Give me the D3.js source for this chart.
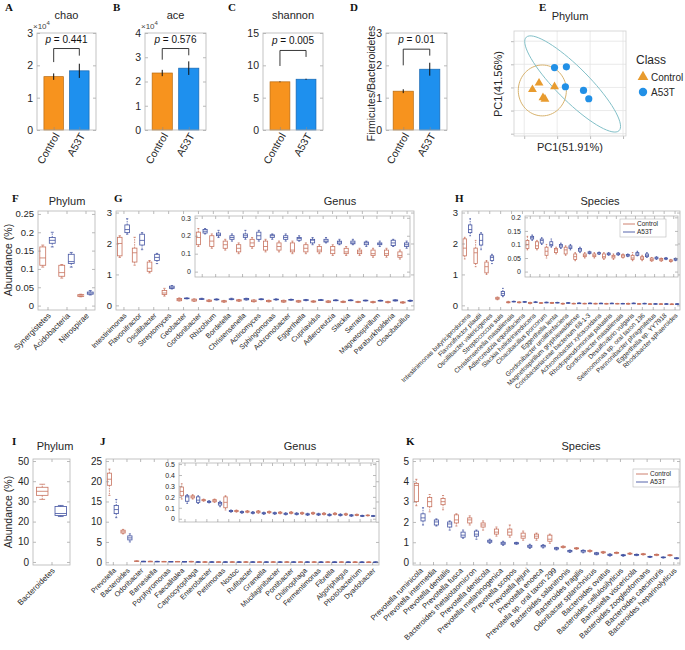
<!DOCTYPE html>
<html>
<head>
<meta charset="utf-8">
<script src="https://cdn.jsdelivr.net/npm/d3@7"></script>
<style>
body { margin: 0; background: #fff; }
svg { font-family: "Liberation Sans", Arial, sans-serif; }
</style>
</head>
<body>
<svg id="svg" width="685" height="650"></svg>
<script>
// ---------------------------------------------------------------------------
// data

var alphaGroups = ["Control", "A53T"];
var chaoMean = [1.65, 1.83], chaoErr = [0.1, 0.22];        // x10^4
var aceMean = [2.35, 2.55], aceErr = [0.13, 0.28];         // x10^4
var shannonMean = [7.45, 7.85], shannonErr = [0.06, 0.08];
var fbMean = [1.2, 1.88], fbErr = [0.06, 0.2];
var pValues = ["0.441", "0.576", "0.005", "0.01"];

// PCoA points
var pcCtrlX = [-0.155, -0.175, -0.108, -0.143, -0.137];
var pcCtrlY = [0.019, -0.009, 0.003, -0.044, -0.051];
var pcA53tX = [-0.108, -0.072, -0.075, -0.020, -0.004];
var pcA53tY = [0.086, 0.089, 0.003, -0.013, -0.049];

// box summaries: [lower whisker, q1, median, q3, upper whisker]
var fNames = ["Synergistetes", "Acidobacteria", "Nitrospirae"];
var fCtrl = [[0.105, 0.11, 0.13, 0.16, 0.165], [0.075, 0.08, 0.09, 0.11, 0.112], [0.024, 0.025, 0.027, 0.03, 0.031]];
var fA53t = [[0.16, 0.17, 0.178, 0.186, 0.2], [0.105, 0.115, 0.12, 0.14, 0.145], [0.029, 0.031, 0.034, 0.037, 0.041]];

var gNames = ["Intestinimonas", "Flavonifractor", "Oscillibacter", "Streptomyces", "Geobacter", "Gordonibacter",
    "Rhizobium", "Bordetella", "Christensenella", "Actinomyces", "Sphingomonas", "Achromobacter", "Eggerthella",
    "Cupriavidus", "Adlercreutzia", "Slackia", "Serratia", "Magnetospirillum", "Paraburkholderia", "Cloacibacillus"];
var gCtrl = [[1.55, 1.6, 2.0, 2.2, 2.25], [1.3, 1.4, 1.7, 1.85, 2.2], [1.05, 1.1, 1.2, 1.4, 1.45], [0.3, 0.35, 0.4, 0.48, 0.55],
    [0.14, 0.15, 0.19, 0.22, 0.24], [0.13, 0.14, 0.17, 0.2, 0.21], [0.12, 0.13, 0.15, 0.17, 0.18], [0.1, 0.11, 0.13, 0.15, 0.16],
    [0.13, 0.14, 0.16, 0.18, 0.19], [0.11, 0.12, 0.14, 0.17, 0.18], [0.11, 0.12, 0.14, 0.16, 0.17], [0.1, 0.11, 0.12, 0.16, 0.17],
    [0.1, 0.11, 0.13, 0.15, 0.16], [0.1, 0.11, 0.12, 0.14, 0.15], [0.09, 0.1, 0.12, 0.14, 0.15], [0.09, 0.1, 0.11, 0.13, 0.14],
    [0.09, 0.1, 0.11, 0.12, 0.13], [0.08, 0.09, 0.1, 0.12, 0.13], [0.08, 0.09, 0.1, 0.12, 0.13], [0.07, 0.08, 0.09, 0.11, 0.12]];
var gA53t = [[2.3, 2.35, 2.45, 2.6, 2.8], [1.8, 1.95, 2.1, 2.3, 2.35], [1.35, 1.45, 1.55, 1.65, 1.68], [0.53, 0.55, 0.57, 0.62, 0.64],
    [0.21, 0.215, 0.225, 0.235, 0.24], [0.19, 0.2, 0.205, 0.215, 0.23], [0.17, 0.18, 0.19, 0.2, 0.21], [0.18, 0.19, 0.2, 0.21, 0.23],
    [0.17, 0.18, 0.2, 0.22, 0.23], [0.18, 0.19, 0.2, 0.205, 0.21], [0.17, 0.18, 0.19, 0.2, 0.21], [0.17, 0.175, 0.185, 0.19, 0.2],
    [0.15, 0.16, 0.175, 0.18, 0.19], [0.16, 0.165, 0.17, 0.18, 0.19], [0.15, 0.155, 0.165, 0.17, 0.18], [0.15, 0.155, 0.16, 0.17, 0.18],
    [0.14, 0.15, 0.16, 0.165, 0.17], [0.14, 0.15, 0.155, 0.16, 0.17], [0.14, 0.145, 0.16, 0.175, 0.18], [0.13, 0.14, 0.15, 0.16, 0.17]];

var hNames = ["Intestinimonas butyriciproducens", "Flavonifractor plautii", "Oscillibacter valericigenes", "Streptococcus suis",
    "Christensenella massiliensis", "Adlercreutzia equolifaciens", "Slackia heliotrinireducens", "Cloacibacillus porcorum",
    "Eggerthella lenta", "Gordonibacter urolithinfaciens", "Magnetospirillum gryphiswaldense", "Coriobacteriaceae bacterium 68-1-3",
    "Achromobacter xylosoxidans", "Rhodopseudomonas palustris", "Gordonibacter massiliensis", "Desulfovibrio vulgaris",
    "Selenomonas sp. oral taxon 136", "Pannonibacter phragmitetus", "Eggerthella sp. YY7918", "Rhodobacter sphaeroides"];
var hCtrl = [[1.5, 1.6, 1.85, 2.15, 2.2], [1.25, 1.35, 1.7, 1.85, 2.1], [1.0, 1.05, 1.25, 1.4, 1.45], [0.18, 0.2, 0.22, 0.26, 0.27],
    [0.08, 0.085, 0.1, 0.115, 0.13], [0.08, 0.085, 0.095, 0.11, 0.115], [0.05, 0.06, 0.075, 0.09, 0.1], [0.065, 0.07, 0.08, 0.085, 0.09],
    [0.06, 0.065, 0.08, 0.09, 0.095], [0.04, 0.045, 0.055, 0.065, 0.07], [0.05, 0.055, 0.06, 0.065, 0.07], [0.05, 0.055, 0.06, 0.065, 0.07],
    [0.045, 0.05, 0.055, 0.065, 0.07], [0.045, 0.05, 0.055, 0.06, 0.065], [0.05, 0.053, 0.058, 0.062, 0.065], [0.04, 0.045, 0.05, 0.06, 0.07],
    [0.04, 0.045, 0.05, 0.055, 0.06], [0.038, 0.04, 0.045, 0.05, 0.052], [0.038, 0.04, 0.045, 0.048, 0.05], [0.035, 0.037, 0.04, 0.043, 0.045]];
var hA53t = [[2.25, 2.35, 2.45, 2.6, 2.8], [1.8, 1.95, 2.1, 2.3, 2.35], [1.35, 1.45, 1.55, 1.6, 1.65], [0.28, 0.32, 0.38, 0.45, 0.55],
    [0.115, 0.12, 0.125, 0.13, 0.135], [0.1, 0.105, 0.115, 0.12, 0.125], [0.09, 0.095, 0.1, 0.11, 0.12], [0.085, 0.09, 0.095, 0.1, 0.105],
    [0.08, 0.085, 0.09, 0.095, 0.1], [0.07, 0.075, 0.08, 0.085, 0.09], [0.065, 0.067, 0.07, 0.073, 0.075], [0.063, 0.065, 0.068, 0.07, 0.072],
    [0.06, 0.062, 0.065, 0.068, 0.07], [0.06, 0.062, 0.065, 0.068, 0.07], [0.055, 0.057, 0.06, 0.063, 0.065], [0.058, 0.06, 0.065, 0.07, 0.075],
    [0.052, 0.055, 0.06, 0.065, 0.07], [0.045, 0.047, 0.05, 0.053, 0.055], [0.044, 0.046, 0.048, 0.05, 0.052], [0.04, 0.042, 0.045, 0.048, 0.05]];

var iNames = ["Bacteroidetes"];
var iCtrl = [[31, 33, 35, 37, 38.5]];
var iA53t = [[22.5, 23, 24, 27.5, 28]];

var jNames = ["Prevotella", "Bacteroides", "Odoribacter", "Barnesiella", "Porphyromonas", "Faecalitalea", "Capnocytophaga",
    "Enterobacter", "Petrimonas", "Nostoc", "Rufibacter", "Gramella", "Mucilaginibacter", "Pontibacter", "Chitinophaga",
    "Fermentimonas", "Fibrella", "Algoriphagus", "Photobacterium", "Dyadobacter"];
var jCtrl = [[16.5, 19, 20.5, 22, 23], [7, 7.2, 7.5, 7.9, 8.1], [0.18, 0.21, 0.25, 0.29, 0.32], [0.18, 0.19, 0.2, 0.21, 0.22],
    [0.16, 0.165, 0.17, 0.175, 0.18], [0.15, 0.155, 0.165, 0.175, 0.18], [0.08, 0.1, 0.15, 0.2, 0.21], [0.06, 0.065, 0.07, 0.075, 0.08],
    [0.055, 0.06, 0.065, 0.07, 0.075], [0.05, 0.055, 0.065, 0.07, 0.075], [0.05, 0.055, 0.06, 0.065, 0.07], [0.045, 0.05, 0.055, 0.06, 0.065],
    [0.045, 0.05, 0.055, 0.06, 0.065], [0.04, 0.045, 0.05, 0.055, 0.06], [0.04, 0.045, 0.05, 0.055, 0.06], [0.035, 0.04, 0.045, 0.05, 0.055],
    [0.035, 0.04, 0.045, 0.05, 0.055], [0.03, 0.035, 0.04, 0.045, 0.05], [0.028, 0.03, 0.035, 0.04, 0.042], [0.025, 0.028, 0.03, 0.033, 0.035]];
var jA53t = [[11, 12, 13, 14, 15.5], [5, 5.5, 6, 6.5, 7], [0.14, 0.16, 0.2, 0.21, 0.22], [0.14, 0.15, 0.17, 0.2, 0.21],
    [0.145, 0.15, 0.155, 0.16, 0.165], [0.11, 0.125, 0.14, 0.15, 0.16], [0.06, 0.065, 0.07, 0.075, 0.08], [0.05, 0.055, 0.06, 0.065, 0.07],
    [0.045, 0.05, 0.055, 0.06, 0.065], [0.04, 0.045, 0.05, 0.055, 0.06], [0.04, 0.045, 0.05, 0.055, 0.06], [0.035, 0.04, 0.045, 0.05, 0.055],
    [0.035, 0.04, 0.045, 0.05, 0.055], [0.03, 0.035, 0.04, 0.045, 0.05], [0.03, 0.035, 0.04, 0.045, 0.05], [0.025, 0.03, 0.035, 0.04, 0.045],
    [0.025, 0.03, 0.035, 0.04, 0.045], [0.022, 0.025, 0.03, 0.035, 0.038], [0.02, 0.022, 0.025, 0.03, 0.032], [0.02, 0.022, 0.025, 0.028, 0.03]];

var kNames = ["Prevotella ruminicola", "Prevotella intermedia", "Prevotella dentalis", "Prevotella fusca",
    "Bacteroides thetaiotaomicron", "Prevotella denticola", "Prevotella melaninogenica", "Prevotella scopos",
    "Prevotella jejuni", "Prevotella enoeca", "Prevotella sp. oral taxon 299", "Bacteroides salanitronis",
    "Bacteroides fragilis", "Odoribacter splanchnicus", "Bacteroides ovatus", "Bacteroides cellulosilyticus",
    "Barnesiella viscericola", "Bacteroides zoogleoformans", "Bacteroides caecimuris", "Bacteroides heparinolyticus"];
var kCtrl = [[2.8, 3.0, 3.8, 3.9, 4.1], [2.5, 2.75, 3.0, 3.2, 3.35], [2.6, 2.85, 3.0, 3.15, 3.3], [1.8, 1.95, 2.1, 2.35, 2.4],
    [1.85, 1.95, 2.1, 2.2, 2.3], [1.6, 1.75, 1.85, 1.95, 2.05], [1.3, 1.4, 1.5, 1.65, 1.75], [1.25, 1.35, 1.5, 1.65, 1.85],
    [1.1, 1.2, 1.3, 1.45, 1.55], [1.1, 1.2, 1.3, 1.4, 1.45], [0.95, 1.05, 1.15, 1.35, 1.4], [0.72, 0.74, 0.77, 0.8, 0.82],
    [0.65, 0.68, 0.7, 0.72, 0.74], [0.52, 0.55, 0.57, 0.6, 0.62], [0.45, 0.48, 0.5, 0.53, 0.55], [0.44, 0.46, 0.48, 0.5, 0.52],
    [0.4, 0.42, 0.44, 0.46, 0.48], [0.37, 0.39, 0.41, 0.43, 0.45], [0.34, 0.36, 0.38, 0.4, 0.42], [0.33, 0.34, 0.36, 0.38, 0.39]];
var kA53t = [[1.85, 2.05, 2.2, 2.4, 2.7], [1.8, 1.85, 2.0, 2.1, 2.15], [1.6, 1.75, 1.9, 2.0, 2.05], [1.2, 1.25, 1.35, 1.5, 1.6],
    [1.15, 1.3, 1.4, 1.55, 1.6], [0.95, 1.0, 1.05, 1.1, 1.15], [0.85, 0.9, 0.95, 1.0, 1.05], [0.9, 0.92, 0.95, 0.98, 1.0],
    [0.7, 0.75, 0.8, 0.85, 0.9], [0.72, 0.77, 0.82, 0.85, 0.88], [0.62, 0.66, 0.7, 0.73, 0.75], [0.5, 0.53, 0.57, 0.6, 0.62],
    [0.48, 0.52, 0.57, 0.6, 0.62], [0.38, 0.41, 0.44, 0.48, 0.5], [0.32, 0.35, 0.38, 0.41, 0.43], [0.31, 0.34, 0.36, 0.38, 0.4],
    [0.34, 0.36, 0.38, 0.4, 0.42], [0.25, 0.27, 0.28, 0.3, 0.31], [0.22, 0.24, 0.25, 0.27, 0.28], [0.18, 0.2, 0.21, 0.23, 0.24]];

//////////////////////////////////////////////////////////////////////////////

var svg = d3.select("#svg");
var ctrlCol = "#c8735f", a53tCol = "#4454a2";
var frameCol = "#b4b4b4", tickCol = "#8c8c8c", textCol = "#262626";
var sans = "Liberation Sans, Arial, sans-serif";
var plain = function(d) { return d; };

function letter(x, y, s) {
    svg.append("text").attr("x", x).attr("y", y)
        .attr("font-family", "Liberation Serif, Times New Roman, serif")
        .attr("font-weight", "bold").attr("font-size", 11).attr("fill", "#111").text(s);
}

function label(x, y, s, size, anchor) {
    return svg.append("text").attr("x", x).attr("y", y)
        .attr("font-size", size).attr("fill", textCol)
        .attr("text-anchor", anchor || "middle").text(s);
}

function vlabel(x, y, s, size) {
    svg.append("text").attr("transform", "translate(" + x + "," + y + ") rotate(-90)")
        .attr("text-anchor", "middle").attr("font-size", size).attr("fill", textCol).text(s);
}

function frame(g, x0, y0, x1, y1) {
    g.append("rect").attr("x", x0).attr("y", y0).attr("width", x1 - x0).attr("height", y1 - y0)
        .attr("fill", "none").attr("stroke", frameCol).attr("stroke-width", 0.8);
}

function styleAxis(sel, fs) {
    sel.attr("font-family", sans).attr("font-size", fs);
    sel.select(".domain").remove();
    sel.selectAll(".tick line").attr("stroke", tickCol).attr("stroke-width", 0.6);
    sel.selectAll(".tick text").attr("fill", textCol);
}

// matlab-style box: ticks on all four sides, pointing in
function axesBox(g, x, y, yTicks, fs, xTicks) {
    var x0 = x.range()[0], x1 = x.range()[1], y0 = y.range()[1], y1 = y.range()[0];
    g.append("g").attr("transform", "translate(" + x0 + ",0)")
        .call(d3.axisLeft(y).tickValues(yTicks).tickSize(-3).tickPadding(4).tickFormat(plain))
        .call(styleAxis, fs);
    g.append("g").attr("transform", "translate(" + x1 + ",0)")
        .call(d3.axisRight(y).tickValues(yTicks).tickSize(-3).tickFormat(""))
        .call(styleAxis, fs);
    if (xTicks) {
        g.append("g").attr("transform", "translate(0," + y0 + ")")
            .call(d3.axisTop(x).tickValues(xTicks).tickSize(-3).tickFormat(""))
            .call(styleAxis, fs);
    }
    frame(g, x0, y0, x1, y1);
}

function rotatedLabels(g, x, y1, ticks, names, fs, angle) {
    var ax = g.append("g").attr("transform", "translate(0," + y1 + ")")
        .call(d3.axisBottom(x).tickValues(ticks).tickSize(-3).tickFormat(function(d, i) { return names[i]; }))
        .call(styleAxis, fs);
    ax.selectAll(".tick text")
        .attr("x", -2).attr("y", 4).attr("dy", "0.35em")
        .attr("transform", "rotate(" + angle + ")")
        .style("text-anchor", "end");
}

//////////////////////////////////////////////////////////////////////////////
// A - D : bar charts

var row1Top = 33, row1Bottom = 130;

function barPanel(o) {
    var g = svg.append("g");
    var x = d3.scaleLinear().domain([0.35, 2.65]).range([o.x0, o.x1]);
    var y = d3.scaleLinear().domain([0, o.ymax]).range([row1Bottom, row1Top]);
    var half = x(1.38) - x(1);
    var fills = ["#f7931e", "#1e90ee"], strokes = ["#b86a10", "#1565b0"];

    g.selectAll("rect.bar").data(o.mean).enter().append("rect")
        .attr("x", function(d, i) { return x(i + 1) - half; })
        .attr("y", function(d) { return y(d); })
        .attr("width", 2 * half)
        .attr("height", function(d) { return row1Bottom - y(d); })
        .attr("fill", function(d, i) { return fills[i]; })
        .attr("stroke", function(d, i) { return strokes[i]; })
        .attr("stroke-width", 0.7);

    g.selectAll("line.err").data(o.mean).enter().append("line")
        .attr("x1", function(d, i) { return x(i + 1); })
        .attr("x2", function(d, i) { return x(i + 1); })
        .attr("y1", function(d, i) { return y(d - o.err[i]); })
        .attr("y2", function(d, i) { return y(d + o.err[i]); })
        .attr("stroke", "#111").attr("stroke-width", 1);

    axesBox(g, x, y, o.ticks, 10.5, null);
    rotatedLabels(g, x, row1Bottom, [1, 2], alphaGroups, 10.5, -60);

    // significance bracket
    var b = o.bracket;
    g.append("path")
        .attr("d", "M" + x(1) + "," + y(b[1]) + "V" + y(b[0]) + "H" + x(2) + "V" + y(b[2]))
        .attr("fill", "none").attr("stroke", "#222").attr("stroke-width", 0.9);
    var t = g.append("text").attr("x", (x(1) + x(2)) / 2).attr("y", y(b[0]) - 6)
        .attr("text-anchor", "middle").attr("font-size", 10).attr("fill", "#111");
    t.append("tspan").attr("font-style", "italic").text("p");
    t.append("tspan").text(" = " + o.p);

    if (o.title) label((o.x0 + o.x1) / 2, 19, o.title, 11);
    if (o.exp) {
        var e = g.append("text").attr("x", o.x0 - 4).attr("y", 29).attr("font-size", 8).attr("fill", "#444");
        e.append("tspan").text("\u00d710");
        e.append("tspan").attr("dy", -4).attr("font-size", 6).text("4");
    }
}

barPanel({x0: 37, x1: 96, ymax: 3, ticks: [0, 1, 2, 3], mean: chaoMean, err: chaoErr,
    bracket: [2.52, 2.1, 2.3], p: pValues[0], title: "chao", exp: true});
barPanel({x0: 145, x1: 206, ymax: 4, ticks: [0, 1, 2, 3, 4], mean: aceMean, err: aceErr,
    bracket: [3.36, 2.9, 3.08], p: pValues[1], title: "ace", exp: true});
barPanel({x0: 263, x1: 323, ymax: 15, ticks: [0, 5, 10, 15], mean: shannonMean, err: shannonErr,
    bracket: [12.3, 9.9, 11.3], p: pValues[2], title: "shannon"});
barPanel({x0: 386, x1: 447, ymax: 3, ticks: [0, 1, 2, 3], mean: fbMean, err: fbErr,
    bracket: [2.5, 2.0, 2.3], p: pValues[3]});
vlabel(375, (row1Top + row1Bottom) / 2 + 2, "Firmicutes/Bacteroidetes", 10.5);

letter(5, 11, "A");
letter(113, 11, "B");
letter(228, 11, "C");
letter(350, 11, "D");
letter(539, 11, "E");

//////////////////////////////////////////////////////////////////////////////
// E : PCoA

(function() {
    var g = svg.append("g");
    var x = d3.scaleLinear().domain([-0.231, 0.109]).range([514, 626]);
    var y = d3.scaleLinear().domain([-0.21, 0.244]).range([136, 31]);
    var xt = [-0.2, -0.1, 0, 0.1], yt = [-0.2, -0.1, 0, 0.1, 0.2];

    g.selectAll("line.vg").data(xt).enter().append("line")
        .attr("x1", x).attr("x2", x).attr("y1", 31).attr("y2", 136)
        .attr("stroke", "#e4e4e4").attr("stroke-width", 0.8);
    g.selectAll("line.hg").data(yt).enter().append("line")
        .attr("y1", y).attr("y2", y).attr("x1", 514).attr("x2", 626)
        .attr("stroke", "#e4e4e4").attr("stroke-width", 0.8);
    g.append("g").attr("transform", "translate(514,0)")
        .call(d3.axisLeft(y).tickValues(yt).tickSize(3).tickFormat("")).call(styleAxis, 9);
    g.append("g").attr("transform", "translate(0,136)")
        .call(d3.axisBottom(x).tickValues(xt).tickSize(3).tickFormat("")).call(styleAxis, 9);
    g.append("rect").attr("x", 514).attr("y", 31).attr("width", 112).attr("height", 105)
        .attr("fill", "none").attr("stroke", "#cfcfcf").attr("stroke-width", 0.8);

    // confidence ellipses: centre, two half-axis vectors in data units
    var ellipses = [
        {c: [-0.145, -0.013], m: [0.073, 0], n: [0, 0.11], col: "#d8b36e"},
        {c: [-0.053, 0.015], m: [0.1405, -0.2025], n: [0.0377, 0.0475], col: "#82c0c8"}
    ];
    var line = d3.line().curve(d3.curveCardinalClosed);
    ellipses.forEach(function(e) {
        var pts = d3.range(0, 2 * Math.PI, Math.PI / 36).map(function(t) {
            return [x(e.c[0] + Math.cos(t) * e.m[0] + Math.sin(t) * e.n[0]),
                    y(e.c[1] + Math.cos(t) * e.m[1] + Math.sin(t) * e.n[1])];
        });
        g.append("path").attr("d", line(pts)).attr("fill", "none")
            .attr("stroke", e.col).attr("stroke-width", 1);
    });

    var tri = d3.symbol().type(d3.symbolTriangle).size(34);
    g.selectAll("path.ctrl").data(pcCtrlX).enter().append("path")
        .attr("d", tri)
        .attr("transform", function(d, i) { return "translate(" + x(d) + "," + y(pcCtrlY[i]) + ")"; })
        .attr("fill", "#e89b2e");
    g.selectAll("circle.a53t").data(pcA53tX).enter().append("circle")
        .attr("cx", function(d) { return x(d); })
        .attr("cy", function(d, i) { return y(pcA53tY[i]); })
        .attr("r", 3.6).attr("fill", "#2290e6");

    label(570, 20, "Phylum", 11);
    vlabel(502, 84, "PC1(41.56%)", 11);
    label(570, 151, "PC1(51.91%)", 11);

    label(636, 64, "Class", 12, "start");
    svg.append("path").attr("d", d3.symbol().type(d3.symbolTriangle).size(50)())
        .attr("transform", "translate(643,77)").attr("fill", "#e89b2e");
    label(651, 81, "Control", 10, "start");
    svg.append("circle").attr("cx", 643).attr("cy", 92).attr("r", 4.2).attr("fill", "#2290e6");
    label(651, 96, "A53T", 10, "start");
})();

//////////////////////////////////////////////////////////////////////////////
// F - K : box plots

function drawBoxes(g, x, y, data, offset, col, first) {
    var bw = (x(1) - x(0)) * 0.62;
    var items = data.map(function(d, i) { return {d: d, pos: 2 * i + offset}; })
        .filter(function(o, i) { return i >= first; });
    var bg = g.append("g").attr("stroke", col).attr("fill", "none").attr("stroke-width", 0.8);
    items.forEach(function(o) {
        var cx = x(o.pos), d = o.d;
        bg.append("line").attr("x1", cx).attr("x2", cx).attr("y1", y(d[3])).attr("y2", y(d[4]))
            .attr("stroke-dasharray", "1.5,1");
        bg.append("line").attr("x1", cx).attr("x2", cx).attr("y1", y(d[1])).attr("y2", y(d[0]))
            .attr("stroke-dasharray", "1.5,1");
        bg.append("line").attr("x1", cx - bw / 4).attr("x2", cx + bw / 4).attr("y1", y(d[4])).attr("y2", y(d[4]));
        bg.append("line").attr("x1", cx - bw / 4).attr("x2", cx + bw / 4).attr("y1", y(d[0])).attr("y2", y(d[0]));
        bg.append("rect").attr("x", cx - bw / 2).attr("y", y(d[3]))
            .attr("width", bw).attr("height", Math.max(y(d[1]) - y(d[3]), 0.6));
        bg.append("line").attr("x1", cx - bw / 2).attr("x2", cx + bw / 2).attr("y1", y(d[2])).attr("y2", y(d[2]));
    });
}

function boxPanel(o) {
    var g = svg.append("g");
    var n = o.names.length;
    var x = d3.scaleLinear().domain([0.5, 2 * n + 0.5]).range([o.x0, o.x1]);
    var y = d3.scaleLinear().domain(o.domain).range([o.y1, o.y0]);
    var centers = o.names.map(function(s, i) { return 2 * i + 1.5; });

    drawBoxes(g, x, y, o.ctrl, 1, ctrlCol, 0);
    drawBoxes(g, x, y, o.a53t, 2, a53tCol, 0);
    axesBox(g, x, y, o.ticks, o.tickFs, centers);
    rotatedLabels(g, x, o.y1, centers, o.names, o.labelFs, -45);

    if (o.inset) {
        var s = o.inset;
        var ix = d3.scaleLinear().domain([2 * s.first + 0.5, 2 * n + 0.5]).range([s.x0, s.x1]);
        var iy = d3.scaleLinear().domain(s.domain).range([s.y1, s.y0]);
        var ig = svg.append("g");
        ig.append("rect").attr("x", s.x0).attr("y", s.y0).attr("width", s.x1 - s.x0).attr("height", s.y1 - s.y0)
            .attr("fill", "#fff");
        drawBoxes(ig, ix, iy, o.ctrl, 1, ctrlCol, s.first);
        drawBoxes(ig, ix, iy, o.a53t, 2, a53tCol, s.first);
        var ic = centers.slice(s.first);
        axesBox(ig, ix, iy, s.ticks, 7, ic);
        ig.append("g").attr("transform", "translate(0," + s.y1 + ")")
            .call(d3.axisBottom(ix).tickValues(ic).tickSize(-3).tickFormat(""))
            .call(styleAxis, 7);
        if (o.legend) legendBox(s.x1 - 58, s.y0 + 3);
    }
    if (o.legend && !o.inset) legendBox(o.x1 - 47, o.y0 + 10);
}

function legendBox(lx, ly) {
    var g = svg.append("g");
    g.append("rect").attr("x", lx).attr("y", ly).attr("width", 46).attr("height", 18)
        .attr("fill", "#fff").attr("stroke", "#b8b8b8").attr("stroke-width", 0.6);
    [["Control", ctrlCol], ["A53T", a53tCol]].forEach(function(e, i) {
        var yy = ly + 5 + i * 8;
        g.append("line").attr("x1", lx + 3).attr("x2", lx + 15).attr("y1", yy).attr("y2", yy)
            .attr("stroke", e[1]).attr("stroke-width", 0.9);
        g.append("text").attr("x", lx + 17).attr("y", yy + 2.4).attr("font-size", 6.5)
            .attr("fill", textCol).text(e[0]);
    });
}

var row2Top = 211, row2Bottom = 310;
var row3Top = 459, row3Bottom = 565;

boxPanel({x0: 38, x1: 95, y0: row2Top, y1: row2Bottom, domain: [-0.012, 0.258],
    ticks: [0, 0.05, 0.1, 0.15, 0.2, 0.25], tickFs: 9.5, names: fNames, ctrl: fCtrl, a53t: fA53t, labelFs: 8});
boxPanel({x0: 116, x1: 414, y0: row2Top, y1: row2Bottom, domain: [-0.15, 3.05],
    ticks: [0, 1, 2, 3], tickFs: 9.5, names: gNames, ctrl: gCtrl, a53t: gA53t, labelFs: 7.2,
    inset: {x0: 195, x1: 410, y0: 216, y1: 277, first: 4, domain: [-0.03, 0.31], ticks: [0, 0.1, 0.2, 0.3]}});
boxPanel({x0: 462, x1: 680, y0: row2Top, y1: row2Bottom, domain: [-0.15, 3.05],
    ticks: [0, 1, 2, 3], tickFs: 9.5, names: hNames, ctrl: hCtrl, a53t: hA53t, labelFs: 6.5, legend: true,
    inset: {x0: 525, x1: 678, y0: 216, y1: 277, first: 4, domain: [-0.02, 0.205], ticks: [0, 0.05, 0.1, 0.15, 0.2]}});

boxPanel({x0: 33, x1: 70, y0: row3Top, y1: row3Bottom, domain: [-1.5, 51],
    ticks: [0, 10, 20, 30, 40, 50], tickFs: 10, names: iNames, ctrl: iCtrl, a53t: iA53t, labelFs: 8});
boxPanel({x0: 106, x1: 379, y0: row3Top, y1: row3Bottom, domain: [-0.7, 25.5],
    ticks: [0, 5, 10, 15, 20, 25], tickFs: 10, names: jNames, ctrl: jCtrl, a53t: jA53t, labelFs: 7.2,
    inset: {x0: 179, x1: 376, y0: 463, y1: 522, first: 2, domain: [-0.03, 0.51], ticks: [0, 0.1, 0.2, 0.3, 0.4, 0.5]}});
boxPanel({x0: 413, x1: 680, y0: row3Top, y1: row3Bottom, domain: [-0.12, 5.1],
    ticks: [0, 1, 2, 3, 4, 5], tickFs: 10, names: kNames, ctrl: kCtrl, a53t: kA53t, labelFs: 7.6, legend: true});

vlabel(12, 260, "Abundance (%)", 10.5);
vlabel(12, 512, "Abundance (%)", 10.5);

label(67, 205, "Phylum", 11);
label(340, 205, "Genus", 11);
label(600, 205, "Species", 11);
label(55, 450, "Phylum", 11);
label(300, 450, "Genus", 11);
label(581, 450, "Species", 11);

letter(12, 202, "F");
letter(114, 202, "G");
letter(455, 202, "H");
letter(12, 445, "I");
letter(100, 445, "J");
letter(406, 445, "K");
</script>
</body>
</html>
